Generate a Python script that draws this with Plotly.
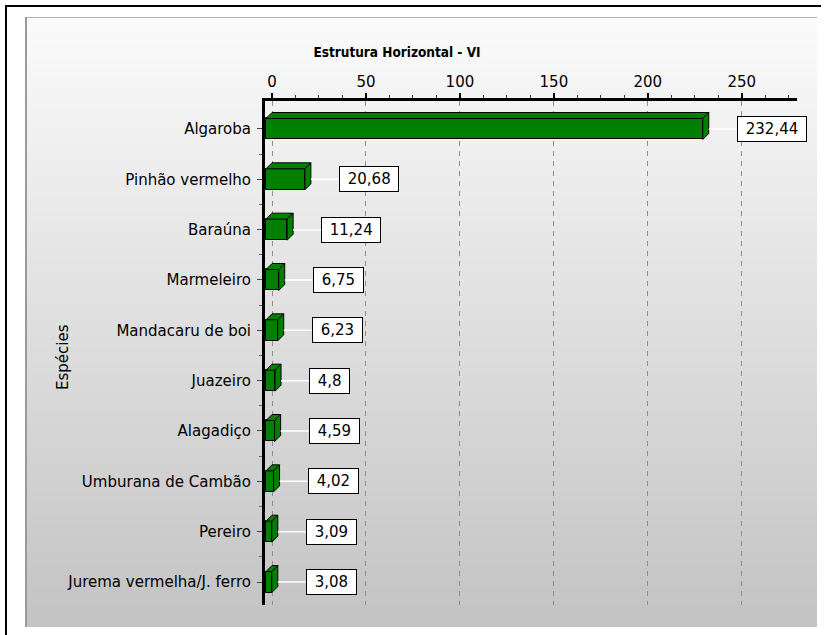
import plotly.graph_objects as go

# ---------------- data ----------------
species = ["Algaroba", "Pinhão vermelho", "Baraúna", "Marmeleiro", "Mandacaru de boi",
           "Juazeiro", "Alagadiço", "Umburana de Cambão", "Pereiro", "Jurema vermelha/J. ferro"]
vi_values = [232.44, 20.68, 11.24, 6.75, 6.23, 4.8, 4.59, 4.02, 3.09, 3.08]
x_tick_values = [0, 50, 100, 150, 200, 250]
chart_title = "Estrutura Horizontal - VI"
y_axis_title = "Espécies"

# ---------------- layout constants ----------------
W, H = 825, 635
ML, MR, MT, MB = 265, 28, 101, 30
PW, PH = W - ML - MR, H - MT - MB
X_RANGE = [-3.73, 279.4]
Y_RANGE = [9.457, -0.556]
px_per_x = PW / (X_RANGE[1] - X_RANGE[0])
px_per_y = PH / (Y_RANGE[0] - Y_RANGE[1])
BAR_PX, DEPTH_PX = 21, 6
bw = BAR_PX / px_per_y
dx = DEPTH_PX / px_per_x
dy = DEPTH_PX / px_per_y

FONT = "DejaVu Sans, Verdana, sans-serif"
GREEN = "#008000"


def pxx(px):
    return (px - ML) / PW


def pxy(py):
    return 1 - (py - MT) / PH


idx = list(range(len(species)))

fig = go.Figure()
fig.add_trace(go.Bar(
    y=idx, x=[v for v in vi_values], base=[-dx] * len(vi_values),
    orientation="h", width=bw,
    marker=dict(color=GREEN, line=dict(color="black", width=1)),
    hoverinfo="skip", showlegend=False,
))

shapes = []
# panel gradient background
y_top, y_bot = 17, 627
N = 120
for k in range(N):
    a = y_top + (y_bot - y_top) * k / N
    b = y_top + (y_bot - y_top) * (k + 1) / N
    t = (k + 0.5) / N
    g = round(251 - (251 - 195) * t)
    b_ext = min(b + 1.5, y_bot)
    shapes.append(dict(type="rect", xref="paper", yref="paper", layer="below",
                       x0=pxx(25), x1=pxx(817), y0=pxy(a), y1=pxy(b_ext),
                       fillcolor=f"rgb({g},{g},{g})", line=dict(width=0)))
# panel edges
shapes.append(dict(type="line", xref="paper", yref="paper", layer="below",
                   x0=pxx(25), x1=pxx(817), y0=pxy(17.5), y1=pxy(17.5),
                   line=dict(color="#b0b0b0", width=1)))
shapes.append(dict(type="line", xref="paper", yref="paper", layer="below",
                   x0=pxx(26), x1=pxx(26), y0=pxy(17), y1=pxy(627),
                   line=dict(color="#9a9a9a", width=2)))
# outer black frame (top + left)
shapes.append(dict(type="line", xref="paper", yref="paper", layer="below",
                   x0=pxx(5), x1=pxx(821), y0=pxy(6), y1=pxy(6),
                   line=dict(color="black", width=2)))
shapes.append(dict(type="line", xref="paper", yref="paper", layer="below",
                   x0=pxx(6), x1=pxx(6), y0=pxy(5), y1=pxy(635),
                   line=dict(color="black", width=2)))

# 3D faces of bars
for i, v in zip(idx, vi_values):
    yt = i - bw / 2
    yb = i + bw / 2
    x0 = -dx
    x1 = v - dx
    top = f"M {x0},{yt} L {x1},{yt} L {v},{yt - dy} L 0,{yt - dy} Z"
    side = f"M {x1},{yt} L {v},{yt - dy} L {v},{yb - dy} L {x1},{yb} Z"
    for p in (top, side):
        shapes.append(dict(type="path", xref="x", yref="y", path=p, layer="above",
                           fillcolor=GREEN, line=dict(color="black", width=1)))

annotations = []
for i, v in zip(idx, vi_values):
    label = f"{v}".replace(".", ",")
    annotations.append(dict(
        x=v, y=i, xref="x", yref="y", text="\u00a0" + label + "\u00a0",
        showarrow=True, arrowhead=0, arrowcolor="white", arrowwidth=1.5,
        ax=28, ay=0, xanchor="left",
        bgcolor="white", bordercolor="black", borderwidth=1, borderpad=3,
        font=dict(family=FONT, size=15, color="black"),
    ))
annotations.append(dict(
    x=pxx(52), y=pxy(357), xref="paper", yref="paper", text=y_axis_title,
    textangle=-90, showarrow=False, font=dict(family=FONT, size=15, color="black"),
))

fig.update_layout(
    width=W, height=H,
    margin=dict(l=ML, r=MR, t=MT, b=MB, pad=0),
    paper_bgcolor="white", plot_bgcolor="rgba(0,0,0,0)",
    title=dict(text="<b>" + chart_title + "</b>", x=397 / W, xanchor="center",
               y=1 - 52 / H, yanchor="middle", yref="container",
               font=dict(family="DejaVu Sans Condensed, DejaVu Sans, sans-serif",
                         size=13.5, color="black")),
    font=dict(family=FONT, size=15, color="black"),
    shapes=shapes, annotations=annotations,
    bargap=0,
    xaxis=dict(
        side="top", range=X_RANGE, tickvals=x_tick_values,
        showline=True, linecolor="black", linewidth=2.5,
        ticks="outside", ticklen=5, tickwidth=1.5, tickcolor="black",
        ticklabelstandoff=0,
        showgrid=True, griddash="5px,5px", gridcolor="#8e8e8e", gridwidth=1,
        zeroline=False,
        minor=dict(dtick=12.5, tick0=0, ticks="outside", ticklen=3, tickwidth=1,
                   tickcolor="#333", showgrid=False),
        tickfont=dict(family=FONT, size=15, color="black"),
    ),
    yaxis=dict(
        range=Y_RANGE, tickvals=idx, ticktext=species,
        showline=True, linecolor="black", linewidth=3,
        ticks="outside", ticklen=5, tickwidth=1, tickcolor="#444",
        ticklabelstandoff=3,
        showgrid=False, zeroline=False,
        minor=dict(tickvals=[i + 0.5 for i in idx], ticks="outside", ticklen=3,
                   tickwidth=1, tickcolor="#666", showgrid=False),
        tickfont=dict(family=FONT, size=15, color="black"),
    ),
)

fig.write_html("out.html")
